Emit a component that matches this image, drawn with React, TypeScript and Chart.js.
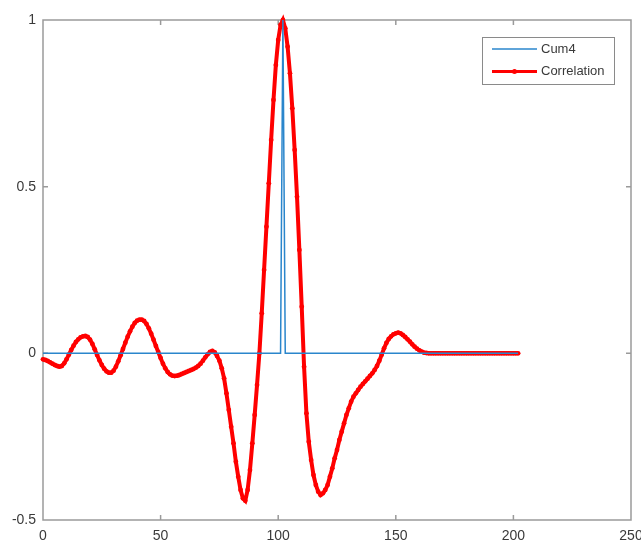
import React, { useEffect, useRef } from "react";
import { Chart, registerables } from "chart.js";

Chart.register(...registerables);

// ---- data ----
const xTicks = [0, 50, 100, 150, 200, 250];
const yTicks = [-0.5, 0, 0.5, 1];
const seriesLabels = ["Cum4", "Correlation"];

const cum4X = [0, 101, 102, 103, 202];
const cum4Y = [0, 0, 1, 0, 0];

// correlation sampled at x = 0, 1, 2, ... 202
const correlation = [
  -0.018, -0.02, -0.023, -0.027, -0.031, -0.035, -0.038, -0.04, -0.038, -0.03,
  -0.018, -0.004, 0.01, 0.023, 0.034, 0.042, 0.048, 0.051, 0.052, 0.049,
  0.041, 0.028, 0.012, -0.005, -0.021, -0.035, -0.046, -0.054, -0.058, -0.058,
  -0.052, -0.04, -0.024, -0.006, 0.013, 0.032, 0.05, 0.066, 0.08, 0.091,
  0.098, 0.101, 0.101, 0.097, 0.088, 0.075, 0.059, 0.041, 0.022, 0.004,
  -0.014, -0.031, -0.045, -0.056, -0.063, -0.067, -0.068, -0.067, -0.065, -0.062,
  -0.059, -0.056, -0.053, -0.05, -0.047, -0.043, -0.038, -0.031, -0.022, -0.012,
  -0.003, 0.004, 0.007, 0.003, -0.008, -0.022, -0.045, -0.075, -0.12, -0.17,
  -0.22, -0.27, -0.325, -0.37, -0.41, -0.435, -0.442, -0.41, -0.35, -0.27,
  -0.185, -0.095, 0.0, 0.12, 0.25, 0.38, 0.51, 0.64, 0.76, 0.865,
  0.94, 0.985, 1.0, 0.975, 0.92, 0.84, 0.735, 0.61, 0.47, 0.31,
  0.14, -0.04, -0.18, -0.265, -0.32, -0.365, -0.395, -0.415, -0.425, -0.42,
  -0.41, -0.395, -0.37, -0.345, -0.315, -0.29, -0.26, -0.235, -0.21, -0.185,
  -0.165, -0.145, -0.13, -0.12, -0.11, -0.1, -0.092, -0.084, -0.076, -0.068,
  -0.06, -0.05, -0.038, -0.022, -0.004, 0.015, 0.031, 0.043, 0.051, 0.057,
  0.06, 0.062, 0.06, 0.055, 0.049, 0.042, 0.035, 0.027, 0.02, 0.014,
  0.009, 0.005, 0.002, 0.001, 0, 0, 0, 0, 0, 0,
  0, 0, 0, 0, 0, 0, 0, 0, 0, 0,
  0, 0, 0, 0, 0, 0, 0, 0, 0, 0,
  0, 0, 0, 0, 0, 0, 0, 0, 0, 0,
  0, 0, 0,
];

const BLUE = "#2a86cc";
const RED = "#ff0000";
const AXIS = "#9a9a9a";
const TEXT = "#3a3a3a";
const FONT = "'Liberation Sans', Arial, Helvetica, sans-serif";

const framePlugin = {
  id: "matlabFrame",
  beforeDatasetsDraw(chart: any) {
    const { ctx, chartArea: a, scales } = chart;
    ctx.save();
    ctx.strokeStyle = AXIS;
    ctx.lineWidth = 1.5;
    ctx.strokeRect(a.left, a.top, a.right - a.left, a.bottom - a.top);
    const tl = 5;
    ctx.beginPath();
    for (const v of xTicks) {
      if (v === xTicks[0] || v === xTicks[xTicks.length - 1]) continue;
      const px = scales.x.getPixelForValue(v);
      ctx.moveTo(px, a.bottom);
      ctx.lineTo(px, a.bottom - tl);
      ctx.moveTo(px, a.top);
      ctx.lineTo(px, a.top + tl);
    }
    for (const v of yTicks) {
      if (v === yTicks[0] || v === yTicks[yTicks.length - 1]) continue;
      const py = scales.y.getPixelForValue(v);
      ctx.moveTo(a.left, py);
      ctx.lineTo(a.left + tl, py);
      ctx.moveTo(a.right, py);
      ctx.lineTo(a.right - tl, py);
    }
    ctx.stroke();
    ctx.restore();
  },
};

const legendPlugin = {
  id: "matlabLegend",
  afterDraw(chart: any) {
    const { ctx, chartArea: a } = chart;
    const w = 132;
    const h = 47;
    const left = a.right - 149;
    const top = a.top + 17;
    ctx.save();
    ctx.fillStyle = "#ffffff";
    ctx.fillRect(left, top, w, h);
    ctx.strokeStyle = "#8a8a8a";
    ctx.lineWidth = 1;
    ctx.strokeRect(left + 0.5, top + 0.5, w, h);
    ctx.font = `13px ${FONT}`;
    ctx.textBaseline = "middle";
    ctx.textAlign = "left";
    chart.data.datasets.forEach((ds: any, i: number) => {
      const y = top + 12 + i * 22.5;
      ctx.strokeStyle = ds.borderColor;
      ctx.lineWidth = i === 0 ? 1.5 : 3;
      ctx.beginPath();
      ctx.moveTo(left + 10, y);
      ctx.lineTo(left + 55, y);
      ctx.stroke();
      if (i === 1) {
        ctx.fillStyle = ds.borderColor;
        ctx.beginPath();
        ctx.arc(left + 32.5, y, 2.5, 0, Math.PI * 2);
        ctx.fill();
      }
      ctx.fillStyle = TEXT;
      ctx.fillText(ds.label, left + 59, y);
    });
    ctx.restore();
  },
};

export default function App() {
  const ref = useRef<HTMLCanvasElement | null>(null);

  useEffect(() => {
    if (!ref.current) return;
    const cumData = cum4X.map((x, i) => ({ x, y: cum4Y[i] }));
    const corrData = correlation.map((y, i) => ({ x: i, y }));
    const chart = new Chart(ref.current, {
      type: "line",
      data: {
        datasets: [
          {
            label: seriesLabels[0],
            data: cumData,
            borderColor: BLUE,
            borderWidth: 1.5,
            pointRadius: 0,
            tension: 0,
            clip: 6,
          } as any,
          {
            label: seriesLabels[1],
            data: corrData,
            borderColor: RED,
            backgroundColor: RED,
            borderWidth: 4,
            pointRadius: 2.4,
            pointBorderWidth: 0,
            pointBackgroundColor: RED,
            tension: 0,
            clip: 6,
          } as any,
        ],
      },
      options: {
        animation: false,
        responsive: false,
        maintainAspectRatio: false,
        layout: { padding: { top: 20, right: 10, left: 0, bottom: 0 } },
        plugins: {
          legend: { display: false },
          tooltip: { enabled: false },
        },
        scales: {
          x: {
            type: "linear",
            min: 0,
            max: 250,
            afterFit: (s: any) => {
              s.height = 27;
              s.paddingLeft = 0;
              s.paddingRight = 0;
            },
            grid: { display: false, drawTicks: false },
            border: { display: false },
            ticks: {
              stepSize: 50,
              padding: 8,
              color: TEXT,
              font: { size: 14, family: FONT },
              maxRotation: 0,
            },
          },
          y: {
            type: "linear",
            min: -0.5,
            max: 1,
            afterFit: (s: any) => {
              s.width = 43;
              s.paddingTop = 0;
              s.paddingBottom = 0;
            },
            grid: { display: false, drawTicks: false },
            border: { display: false },
            ticks: {
              stepSize: 0.5,
              padding: 7,
              color: TEXT,
              font: { size: 14, family: FONT },
              callback: (v: any) => String(Number(v)),
            },
          },
        },
      },
      plugins: [framePlugin, legendPlugin],
    });
    return () => chart.destroy();
  }, []);

  return (
    <div style={{ position: "fixed", left: 0, top: 0, width: 641, height: 547, background: "#fff" }}>
      <canvas ref={ref} width={641} height={547} style={{ display: "block" }} />
    </div>
  );
}
